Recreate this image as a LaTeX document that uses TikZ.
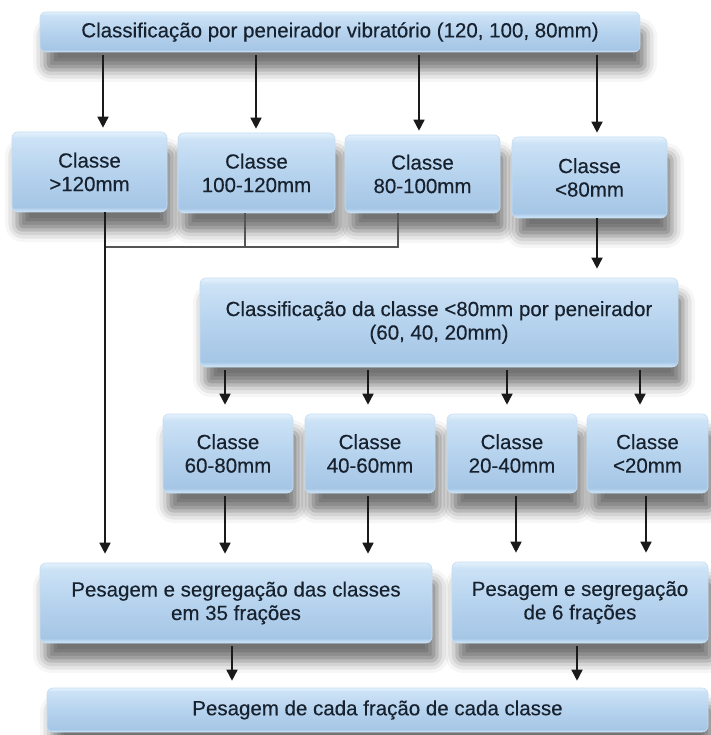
\documentclass[tikz,border=0pt]{standalone}
\usepackage{fontspec}
\setmainfont{Liberation Sans}
\newfontfamily\boxfont[FakeBold=0.35]{Liberation Sans}
\usetikzlibrary{arrows.meta,shadows.blur}
\usepackage{xcolor}
\definecolor{bxA}{HTML}{D4EAFA}
\definecolor{bxB}{HTML}{A6C6E6}
\definecolor{bxC}{HTML}{B6D3EE}
\definecolor{bxD}{HTML}{CCE2F6}
\definecolor{bxE}{HTML}{E4F1FC}
\definecolor{bxedge}{HTML}{C4DCF2}
\definecolor{txtdark}{HTML}{18222F}
\definecolor{arrdark}{HTML}{1A1A1A}
\definecolor{linkgray}{HTML}{555555}
\pgfdeclareverticalshading{boxshade}{100bp}{color(0bp)=(bxA); color(25bp)=(bxA); color(28bp)=(bxB); color(50bp)=(bxC); color(71bp)=(bxD); color(75bp)=(bxE); color(100bp)=(bxE)}

\begin{document}
\begin{tikzpicture}[x=1pt,y=-1pt,>={Triangle[length=11pt,width=11pt]},
  font=\boxfont\fontsize{20.5}{23.5}\selectfont,
  box/.style={rounded corners=6pt,shading=boxshade,draw=bxedge,line width=0.6pt,
    text=txtdark,align=center,inner sep=0pt,
    blur shadow={shadow xshift=5pt,shadow yshift=-18pt,shadow blur radius=12pt,shadow opacity=55}},
  arr/.style={->,line width=1.6pt,draw=arrdark,fill=arrdark,shorten <=3pt,shorten >=9pt},
  link/.style={line width=1.2pt,draw=linkgray}]
\useasboundingbox (0,0) rectangle (710,735);
\node[box,minimum width=600pt,minimum height=40pt] (top) at (340,32) {Classificação por peneirador vibratório (120, 100, 80mm)};
\node[box,minimum width=155pt,minimum height=80pt] (c1) at (89.5,172) {Classe\\>120mm};
\node[box,minimum width=157pt,minimum height=80pt] (c2) at (256.5,173) {Classe\\100-120mm};
\node[box,minimum width=155pt,minimum height=78pt] (c3) at (422.5,174) {Classe\\80-100mm};
\node[box,minimum width=155pt,minimum height=81pt] (c4) at (589.5,177.5) {Classe\\<80mm};
\node[box,minimum width=478pt,minimum height=89pt] (mid) at (439,322.5) {Classificação da classe <80mm por peneirador\\(60, 40, 20mm)};
\node[box,minimum width=130pt,minimum height=79pt] (d1) at (228,453.5) {Classe\\60-80mm};
\node[box,minimum width=130pt,minimum height=79pt] (d2) at (370,453.5) {Classe\\40-60mm};
\node[box,minimum width=130pt,minimum height=79pt] (d3) at (512,453.5) {Classe\\20-40mm};
\node[box,minimum width=121pt,minimum height=79pt] (d4) at (647.5,453.5) {Classe\\<20mm};
\node[box,minimum width=392pt,minimum height=80pt] (p1) at (236,603) {Pesagem e segregação das classes\\em 35 frações};
\node[box,minimum width=256pt,minimum height=81pt] (p2) at (580,602.5) {Pesagem e segregação\\de 6 frações};
\node[box,minimum width=661pt,minimum height=44pt] (fim) at (377.5,710) {Pesagem de cada fração de cada classe};
\coordinate (bar) at (0,247);

\draw[arr,shorten >=4pt] ([xshift=13.5pt]c1.north |- top.south) -- ([xshift=13.5pt]c1.north);
\draw[arr,shorten >=4pt] ([xshift=-0.5pt]c2.north |- top.south) -- ([xshift=-0.5pt]c2.north);
\draw[arr,shorten >=4pt] ([xshift=-3.5pt]c3.north |- top.south) -- ([xshift=-3.5pt]c3.north);
\draw[arr,shorten >=4pt] ([xshift=7.5pt]c4.north |- top.south) -- ([xshift=7.5pt]c4.north);
\draw[link] ([xshift=-11.5pt]c2.south) -- ([xshift=-11.5pt]c2.south |- bar);
\draw[link] ([xshift=-24.5pt]c3.south) -- ([xshift=-24.5pt]c3.south |- bar) -- ([xshift=15.5pt]c1.south |- bar);
\draw[arr,shorten <=0pt] ([xshift=15.5pt]c1.south) -- ([xshift=15.5pt]c1.south |- p1.north);
\draw[arr,shorten <=0pt] ([xshift=7.5pt]c4.south) -- ([xshift=7.5pt]c4.south |- mid.north);
\draw[arr] ([xshift=-3pt]d1.north |- mid.south) -- ([xshift=-3pt]d1.north);
\draw[arr] ([xshift=-2pt]d2.north |- mid.south) -- ([xshift=-2pt]d2.north);
\draw[arr] ([xshift=-5pt]d3.north |- mid.south) -- ([xshift=-5pt]d3.north);
\draw[arr] ([xshift=-7.5pt]d4.north |- mid.south) -- ([xshift=-7.5pt]d4.north);
\draw[arr] ([xshift=-3pt]d1.south) -- ([xshift=-3pt]d1.south |- p1.north);
\draw[arr] ([xshift=-2pt]d2.south) -- ([xshift=-2pt]d2.south |- p1.north);
\draw[arr] ([xshift=4pt]d3.south) -- ([xshift=4pt]d3.south |- p2.north);
\draw[arr] ([xshift=-1.5pt]d4.south) -- ([xshift=-1.5pt]d4.south |- p2.north);
\draw[arr,shorten >=7pt] ([xshift=-4pt]p1.south) -- ([xshift=-4pt]p1.south |- fim.north);
\draw[arr,shorten >=7pt] ([xshift=-3pt]p2.south) -- ([xshift=-3pt]p2.south |- fim.north);
\end{tikzpicture}
\end{document}
